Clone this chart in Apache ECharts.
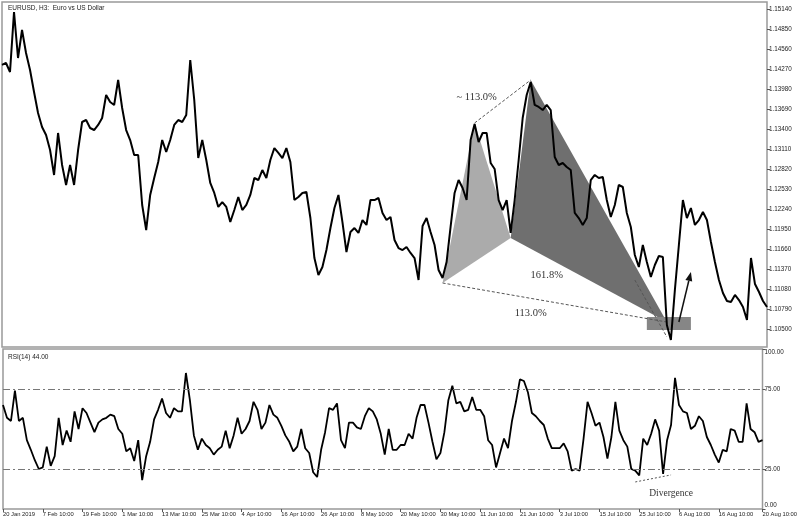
<!DOCTYPE html>
<html><head><meta charset="utf-8">
<script src="https://cdn.jsdelivr.net/npm/echarts@6/dist/echarts.min.js"></script>
<style>html,body{margin:0;padding:0;background:#fff}#c{width:800px;height:521px}</style>
</head><body><div id="c"></div>
<script>
// ---- data ----
const priceValues = [1.14336,1.14365,1.14234,1.15104,1.14437,1.14843,1.14510,1.14263,1.13944,1.13640,
1.13437,1.13321,1.13103,1.12741,1.13350,1.12886,1.12596,1.12886,1.12596,1.13103,
1.13509,1.13538,1.13422,1.13393,1.13466,1.13567,1.13901,1.13799,1.13756,1.14118,
1.13712,1.13393,1.13248,1.13031,1.13031,1.12306,1.11943,1.12451,1.12697,1.12929,
1.13248,1.13074,1.13248,1.13466,1.13538,1.13509,1.13611,1.14408,1.13828,1.12987,
1.13248,1.12958,1.12625,1.12480,1.12277,1.12349,1.12277,1.12059,1.12233,1.12422,
1.12233,1.12306,1.12451,1.12697,1.12668,1.12813,1.12697,1.12958,1.13132,1.13060,
1.12987,1.13132,1.12929,1.12378,1.12422,1.12480,1.12494,1.12117,1.11537,1.11291,
1.11407,1.11653,1.11972,1.12262,1.12451,1.12059,1.11624,1.11914,1.11972,1.11900,
1.12088,1.12016,1.12378,1.12378,1.12407,1.12190,1.12088,1.12132,1.11798,1.11682,
1.11653,1.11697,1.11610,1.11537,1.11218,1.12001,1.12117,1.11914,1.11726,1.11363,
1.11247,1.11479,1.11987,1.12480,1.12668,1.12552,1.12378,1.13248,1.13480,1.13219,
1.13350,1.13350,1.12915,1.12828,1.12378,1.12233,1.12378,1.11900,1.12378,1.12958,
1.13567,1.13901,1.14089,1.13756,1.13727,1.13683,1.13756,1.13683,1.13002,1.12886,
1.12915,1.12857,1.12813,1.12190,1.12117,1.12016,1.12117,1.12668,1.12741,1.12697,
1.12712,1.12378,1.12132,1.12306,1.12596,1.12567,1.12190,1.11987,1.11581,1.11407,
1.11726,1.11479,1.11262,1.11436,1.11566,1.11552,1.10566,1.10348,1.11073,1.11726,
1.12378,1.12117,1.12262,1.12016,1.12088,1.12204,1.12088,1.11769,1.11479,1.11218,
1.11030,1.10914,1.10899,1.11001,1.10928,1.10827,1.10638,1.11537,1.11160,1.11044,
1.10914,1.10827];

const rsiValues = [65,57,55,74,55,57,43,37,30.5,25,
26,39,27,33,57,40,49,42,61,50,
63,60,54,48,54,56,57,59,58,50,
47,36,38,30,43,18,33,42,56,62,
69,60,57,63,61,61,85,68,46,37,
44,40,38,34,37,39,49,38,46,57,
47,50,55,67,62,50,54,65,59,57,
52,46,42,36,39,50,38,35,23,20,
37,48,63,62,66,43,38,54,54,51,
50,58,63,61,56,47,34,50,37,37,
40,40,47,44,57,65,65,54,42,31,
35,48,68,77,66,67,61,62,70,62,
62,58,43,40,26,35,44,38,55,67,
81,80,73,60,58,55,52.5,44,38,38,
38,41,36,24,25,24,44,67,60,52,
54,45,31.5,45,67,49,43,39,25,24,
21,44,40,47,56,49,22,43,52.5,82,
65,61,60,50,52,58,55,45,40,34,
29,37,36,50,49,42,42,66,50,48,
42,43];

const xTickIndex = [0,10,20,30,40,50,60,70,80,90,100,110,120,130,140,150,160,170,180,191];
const xTickLabels = ['20 Jan 2019','7 Feb 10:00','19 Feb 10:00','1 Mar 10:00','13 Mar 10:00','25 Mar 10:00',
  '4 Apr 10:00','16 Apr 10:00','26 Apr 10:00','8 May 10:00','20 May 10:00','30 May 10:00','11 Jun 10:00',
  '21 Jun 10:00','3 Jul 10:00','15 Jul 10:00','25 Jul 10:00','6 Aug 10:00','16 Aug 10:00','20 Aug 10:00'];
const priceTicks = [1.10500,1.10790,1.11080,1.11370,1.11660,1.11950,1.12240,1.12530,1.12820,
  1.13110,1.13400,1.13690,1.13980,1.14270,1.14560,1.14850,1.15140];
const rsiTicks = [0,25,75,100];
const rsiLevels = [75,25];

// harmonic pattern points X, A, B, C, D
const patternIdx = [110,118,127,132,166];
const patternPrice = [1.11175,1.13495,1.11827,1.14118,1.10609];
const zoneIdx = [161,172];
const zonePrice = [1.10493,1.10681];
const arrowIdx = [169,172];
const arrowPrice = [1.10609,1.11334];
const extIdx = [158,166];
const extPrice = [1.11218,1.10392];
const divIdx = [159,168];
const divRsi = [16.9,21.3];
const annotTexts = ['~ 113.0%','161.8%','113.0%','Divergence'];
// ------------------------------------------------

const categories = priceValues.map((_, i) => String(i));
const labelMap = {};
xTickIndex.forEach((k, j) => { labelMap[k] = xTickLabels[j]; });

const serif = '"Liberation Serif","Times New Roman",serif';

function renderPattern(params, api) {
  const P = k => api.coord([patternIdx[k], patternPrice[k]]);
  const X = P(0), A = P(1), B = P(2), C = P(3), D = P(4);
  const z0 = api.coord([zoneIdx[0], zonePrice[1]]);
  const z1 = api.coord([zoneIdx[1], zonePrice[0]]);
  const e0 = api.coord([extIdx[0], extPrice[0]]);
  const e1 = api.coord([extIdx[1], extPrice[1]]);
  const s = api.coord([arrowIdx[0], arrowPrice[0]]);
  const e = api.coord([arrowIdx[1], arrowPrice[1]]);
  const dx = e[0] - s[0], dy = e[1] - s[1], L = Math.hypot(dx, dy);
  const ux = dx / L, uy = dy / L, hl = 9, hw = 3.5;
  const bx = e[0] - ux * hl, by = e[1] - uy * hl;
  const t1 = api.coord([118, 1.13872]);
  const t2 = api.coord([136, 1.11290]);
  const t3 = api.coord([132, 1.10740]);
  const dash = {stroke: '#555', lineWidth: 1, lineDash: [3, 2], fill: null};
  return {type: 'group', children: [
    {type: 'polygon', shape: {points: [X, A, B]}, style: {fill: '#ababab'}},
    {type: 'polygon', shape: {points: [B, C, D]}, style: {fill: '#6f6f6f'}},
    {type: 'rect', shape: {x: z0[0], y: z0[1], width: z1[0] - z0[0], height: z1[1] - z0[1]}, style: {fill: '#868686'}},
    {type: 'line', shape: {x1: X[0], y1: X[1], x2: D[0], y2: D[1]}, style: dash},
    {type: 'line', shape: {x1: A[0], y1: A[1], x2: C[0], y2: C[1]}, style: dash},
    {type: 'line', shape: {x1: e0[0], y1: e0[1], x2: e1[0], y2: e1[1]}, style: dash},
    {type: 'line', shape: {x1: s[0], y1: s[1], x2: bx, y2: by}, style: {stroke: '#111', lineWidth: 1.5}},
    {type: 'polygon', shape: {points: [e, [bx - uy * hw, by + ux * hw], [bx + uy * hw, by - ux * hw]]}, style: {fill: '#111'}},
    {type: 'text', x: t1[0] + 2, y: t1[1], style: {text: annotTexts[0], fill: '#333', font: '10.5px ' + serif, align: 'center', verticalAlign: 'middle'}},
    {type: 'text', x: t2[0], y: t2[1], style: {text: annotTexts[1], fill: '#333', font: '10.5px ' + serif, align: 'center', verticalAlign: 'middle'}},
    {type: 'text', x: t3[0], y: t3[1], style: {text: annotTexts[2], fill: '#333', font: '10.5px ' + serif, align: 'center', verticalAlign: 'middle'}}
  ]};
}

function renderDivergence(params, api) {
  const a = api.coord([divIdx[0], divRsi[0]]);
  const b = api.coord([divIdx[1], divRsi[1]]);
  const t = api.coord([168, 10]);
  return {type: 'group', children: [
    {type: 'line', shape: {x1: a[0], y1: a[1], x2: b[0], y2: b[1]}, style: {stroke: '#555', lineWidth: 1, lineDash: [2, 2]}},
    {type: 'text', x: t[0], y: t[1], style: {text: annotTexts[3], fill: '#333', font: '9.5px ' + serif, align: 'center', verticalAlign: 'middle'}}
  ]};
}

const tiny = {fontFamily: '"Liberation Sans",Arial,sans-serif', color: '#222'};

const option = {
  animation: false,
  backgroundColor: '#fff',
  title: [
    {text: 'EURUSD, H3:  Euro vs US Dollar', left: 3, top: 0, textStyle: Object.assign({fontSize: 6.5, fontWeight: 'normal'}, tiny)},
    {text: 'RSI(14) 44.00', left: 3, top: 349, textStyle: Object.assign({fontSize: 6.5, fontWeight: 'normal'}, tiny)}
  ],
  grid: [
    {left: 2, right: 33, top: 2, height: 345, show: true, borderColor: '#999', borderWidth: 1.5, backgroundColor: '#fff'},
    {left: 2, right: 33, top: 349, height: 160, show: true, borderColor: '#999', borderWidth: 1.5, backgroundColor: '#fff'}
  ],
  xAxis: [
    {type: 'category', gridIndex: 0, data: categories, boundaryGap: false,
     axisLine: {show: false}, axisTick: {show: false}, axisLabel: {show: false}, splitLine: {show: false}},
    {type: 'category', gridIndex: 1, data: categories, boundaryGap: false,
     axisLine: {show: false},
     axisTick: {show: true, length: 3, interval: (i) => labelMap[i] !== undefined, lineStyle: {color: '#555'}},
     axisLabel: {show: true, interval: (i) => labelMap[i] !== undefined, formatter: (v, i) => labelMap[i] || '',
       align: 'left', margin: 2, fontSize: 5.8, fontFamily: tiny.fontFamily, color: '#222'},
     splitLine: {show: false}}
  ],
  yAxis: [
    {type: 'value', gridIndex: 0, position: 'right', min: 1.10247, max: 1.15249,
     axisLine: {show: false}, splitLine: {show: false},
     axisTick: {show: true, length: 3, customValues: priceTicks, lineStyle: {color: '#555'}},
     axisLabel: {customValues: priceTicks, formatter: v => v.toFixed(5), margin: 2, fontSize: 6.3, fontFamily: tiny.fontFamily, color: '#222'}},
    {type: 'value', gridIndex: 1, position: 'right', min: 0, max: 100,
     axisLine: {show: false}, splitLine: {show: false},
     axisTick: {show: true, length: 3, customValues: rsiTicks, lineStyle: {color: '#555'}},
     axisLabel: {customValues: rsiTicks, margin: 2, fontSize: 6.3, fontFamily: tiny.fontFamily, color: '#222',
       formatter: v => v === 100 ? '{t|' + v.toFixed(2) + '}' : (v === 0 ? '{b|' + v.toFixed(2) + '}' : v.toFixed(2)),
       rich: {t: {padding: [7, 0, 0, 0], fontSize: 6.3, fontFamily: tiny.fontFamily, color: '#222'},
              b: {padding: [0, 0, 7, 0], fontSize: 6.3, fontFamily: tiny.fontFamily, color: '#222'}}}}
  ],
  series: [
    {type: 'custom', xAxisIndex: 0, yAxisIndex: 0, renderItem: renderPattern, data: [[0, patternPrice[0]]], silent: true, z: 1},
    {type: 'line', xAxisIndex: 0, yAxisIndex: 0, data: priceValues, showSymbol: false, symbol: 'none',
     lineStyle: {color: '#000', width: 2}, z: 3},
    {type: 'line', xAxisIndex: 1, yAxisIndex: 1, data: rsiValues, showSymbol: false, symbol: 'none',
     lineStyle: {color: '#000', width: 1.8}, z: 3,
     markLine: {silent: true, symbol: 'none', label: {show: false},
       lineStyle: {color: '#777', width: 1, type: [7, 3, 2, 3]},
       data: rsiLevels.map(v => ({yAxis: v}))}},
    {type: 'custom', xAxisIndex: 1, yAxisIndex: 1, renderItem: renderDivergence, data: [[0, 50]], silent: true, z: 4}
  ]
};

echarts.init(document.getElementById('c'), null, {renderer: 'canvas'}).setOption(option);
</script>
</body></html>
